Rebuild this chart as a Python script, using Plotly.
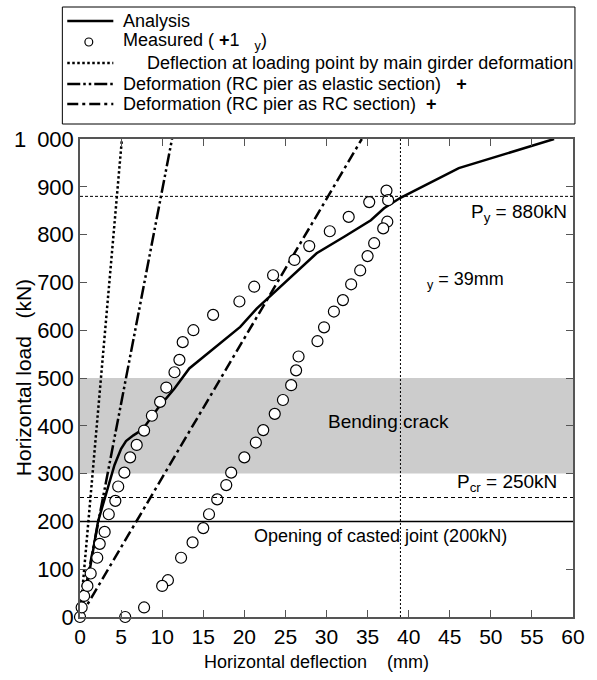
import plotly.graph_objects as go

# ---------------- data ----------------
meas_x = [0.0, 0.2, 0.5, 0.9, 1.3, 2.1, 2.4, 3.0, 3.5, 4.3, 4.65, 5.4, 6.1, 6.9, 7.8, 8.75, 9.75, 10.5,
          11.5, 12.1, 12.5, 13.8, 16.2, 19.4, 21.2, 23.5, 26.1, 27.9, 30.4, 32.7, 35.2, 37.3,
          37.5, 37.4, 36.9, 35.8, 35.0, 34.1, 33.0, 32.0, 30.9, 29.7, 28.9, 26.6, 26.3, 25.7, 24.7,
          23.7, 22.3, 21.4, 20.0, 18.4, 17.8, 16.7, 15.7, 15.0, 13.7, 12.3, 10.7, 10.0, 7.8, 5.5]
meas_y = [0, 20, 44, 65, 91, 124, 153, 178, 215, 243, 273, 302, 334, 360, 390, 421, 450, 480,
          512, 538, 575, 600, 632, 660, 691, 715, 747, 776, 807, 837, 868, 892,
          872, 827, 813, 782, 755, 725, 696, 663, 639, 606, 577, 545, 516, 485, 454,
          425, 391, 365, 334, 302, 276, 246, 215, 186, 156, 124, 77, 65, 20, 0]

analysis_x = [0.0, 1.0, 2.2, 3.2, 4.2, 5.0, 5.6, 6.5, 7.6, 9.5, 11.5, 13.3, 16.3, 19.5, 21.5,
              23.5, 26.3, 28.8, 32.2, 35.4, 37.0, 39.0, 46.1, 57.7]
analysis_y = [0, 80, 200, 260, 318, 352, 368, 380, 392, 437, 478, 520, 562, 607, 645,
              677, 722, 761, 796, 830, 855, 877, 939, 1000]

girder_x = [0.0, 5.1]
girder_y = [0, 1000]
elastic_x = [0.0, 11.2]
elastic_y = [0, 1000]
rcsec_x = [0.0, 34.3]
rcsec_y = [0, 1000]

P_y = 880
P_cr = 250
P_joint = 200
crack_band = [300, 500]
delta_y = 39

x_ticks = list(range(0, 61, 5))
y_ticks = list(range(0, 1001, 100))
y_tick_text = [str(v) if v < 1000 else "1\u2002000" for v in y_ticks]

legend_labels = [
    "Analysis",
    "Measured (\u00a0<b>+</b>1\u00a0\u00a0\u00a0<sub>y</sub>)",
    "Deflection at loading point by main girder deformation",
    "Deformation (RC pier as elastic section)\u00a0\u00a0\u00a0<b>+</b>",
    "Deformation (RC pier as RC section)\u00a0\u00a0<b>+</b>",
]

# ---------------- layout helpers ----------------
W, H = 597, 680
ML, MR, MT, MB = 80, 14, 139, 63
PW, PH = W - ML - MR, H - MT - MB
FONT = "Liberation Sans, Arial, sans-serif"


def px_x(p):
    return (p - ML) / PW


def px_y(p):
    return (H - MB - p) / PH


DASH_ELASTIC = "13px,3px,2.5px,3px,2.5px,3px"
DASH_RC = "11px,4px,3px,4px"
DASH_DOT = "2.5px,2.5px"

fig = go.Figure()

# shaded band (bending crack)
fig.add_shape(type="rect", xref="x", yref="y", x0=0, x1=60, y0=crack_band[0], y1=crack_band[1],
              fillcolor="#cccccc", line_width=0, layer="below")
# reference lines
fig.add_shape(type="line", xref="x", yref="y", x0=0, x1=60, y0=P_y, y1=P_y,
              line=dict(color="black", width=1, dash="3px,2px"))
fig.add_shape(type="line", xref="x", yref="y", x0=0, x1=60, y0=P_cr, y1=P_cr,
              line=dict(color="black", width=1, dash="4px,3px"))
fig.add_shape(type="line", xref="x", yref="y", x0=0, x1=60, y0=P_joint, y1=P_joint,
              line=dict(color="black", width=1.5))
fig.add_shape(type="line", xref="x", yref="y", x0=delta_y, x1=delta_y, y0=0, y1=1000,
              line=dict(color="black", width=1, dash="2px,2px"))

# lines
fig.add_trace(go.Scatter(x=girder_x, y=girder_y, mode="lines",
                         line=dict(color="black", width=2.5, dash=DASH_DOT), showlegend=False))
fig.add_trace(go.Scatter(x=elastic_x, y=elastic_y, mode="lines",
                         line=dict(color="black", width=2.5, dash=DASH_ELASTIC), showlegend=False))
fig.add_trace(go.Scatter(x=rcsec_x, y=rcsec_y, mode="lines",
                         line=dict(color="black", width=2.5, dash=DASH_RC), showlegend=False))
fig.add_trace(go.Scatter(x=analysis_x, y=analysis_y, mode="lines",
                         line=dict(color="black", width=2.5), showlegend=False))
fig.add_trace(go.Scatter(x=meas_x, y=meas_y, mode="markers", cliponaxis=False,
                         marker=dict(symbol="circle", size=11, color="white",
                                     line=dict(color="black", width=1.2)),
                         showlegend=False))

# annotations inside plot
ann = []
ann.append(dict(x=59.5, y=846, xref="x", yref="y", text="P<sub>y</sub> = 880kN",
                xanchor="right", yanchor="middle", showarrow=False,
                font=dict(size=19, color="black", family=FONT)))
ann.append(dict(x=58.3, y=281, xref="x", yref="y", text="P<sub>cr</sub> = 250kN",
                xanchor="right", yanchor="middle", showarrow=False,
                font=dict(size=19, color="black", family=FONT)))
ann.append(dict(x=42.0, y=705, xref="x", yref="y", text="<sub>y</sub> = 39mm",
                xanchor="left", yanchor="middle", showarrow=False,
                font=dict(size=18, color="black", family=FONT)))
ann.append(dict(x=37.6, y=410, xref="x", yref="y", text="Bending crack",
                xanchor="center", yanchor="middle", showarrow=False,
                font=dict(size=19, color="black", family=FONT)))
ann.append(dict(x=36.6, y=169, xref="x", yref="y", text="Opening of casted joint (200kN)",
                xanchor="center", yanchor="middle", showarrow=False,
                font=dict(size=18, color="black", family=FONT)))
# axis titles
ann.append(dict(x=px_x(321), y=px_y(662), xref="paper", yref="paper",
                text="Horizontal deflection\u00a0\u00a0\u00a0\u00a0(mm)",
                xanchor="center", yanchor="middle", showarrow=False,
                font=dict(size=18, color="black", family=FONT)))
ann.append(dict(x=px_x(22), y=px_y(378), xref="paper", yref="paper",
                text="Horizontal load\u00a0\u00a0\u00a0(kN)", textangle=-90,
                xanchor="center", yanchor="middle", showarrow=False,
                font=dict(size=21, color="black", family=FONT)))

# custom legend
leg_y = [21, 42, 63, 84, 104]
leg_x = [122, 122, 146, 122, 122]
fig.add_shape(type="rect", xref="paper", yref="paper", x0=px_x(62), x1=px_x(585),
              y0=px_y(124), y1=px_y(7), line=dict(color="black", width=1), fillcolor="white")
samples = [("solid", 2.5), None, (DASH_DOT, 2.5), (DASH_ELASTIC, 2.5), (DASH_RC, 2.5)]
for i, (lbl, yy) in enumerate(zip(legend_labels, leg_y)):
    s = samples[i]
    if s is not None:
        fig.add_shape(type="line", xref="paper", yref="paper", x0=px_x(67), x1=px_x(114),
                      y0=px_y(yy), y1=px_y(yy), line=dict(color="black", width=s[1], dash=s[0]))
    else:
        r = 4
        fig.add_shape(type="circle", xref="paper", yref="paper",
                      x0=px_x(89 - r), x1=px_x(89 + r), y0=px_y(yy + r), y1=px_y(yy - r),
                      line=dict(color="black", width=1.2), fillcolor="white")
    ann.append(dict(x=px_x(leg_x[i]), y=px_y(yy), xref="paper", yref="paper", text=lbl,
                    xanchor="left", yanchor="middle", showarrow=False,
                    font=dict(size=18, color="black", family=FONT)))

fig.update_layout(
    width=W, height=H,
    margin=dict(l=ML, r=MR, t=MT, b=MB),
    paper_bgcolor="white", plot_bgcolor="white",
    showlegend=False,
    annotations=ann,
    font=dict(family=FONT, color="black"),
)
axis_common = dict(showgrid=False, zeroline=False, showline=True, linecolor="#555555", linewidth=1.5,
                   mirror="ticks", ticks="inside", ticklen=7, tickcolor="#555555", tickwidth=1.2)
fig.update_xaxes(range=[0, 60], tickvals=x_ticks, ticktext=[str(v) for v in x_ticks],
                 tickfont=dict(size=21, color="black", family=FONT), **axis_common)
fig.update_yaxes(range=[0, 1000], tickvals=y_ticks, ticktext=y_tick_text,
                 tickfont=dict(size=22, color="black", family=FONT), **axis_common)

fig.write_html("out.html")
